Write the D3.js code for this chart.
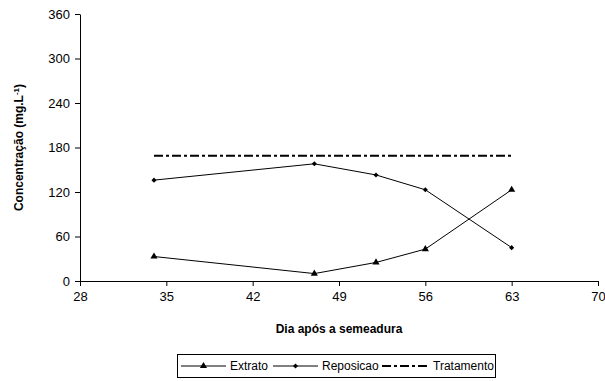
<!DOCTYPE html>
<meta charset="utf-8">
<style>
	body { margin: 0; background: #fff; }
	svg text { font-family: "Liberation Sans", Arial, sans-serif; fill: #000; }
	.axis path, .axis line { stroke: #000; stroke-width: 1; }
	.axis text { font-size: 13px; }
	.line { fill: none; stroke: #000; stroke-width: 1; }
	.trat { fill: none; stroke: #000; stroke-width: 2; stroke-dasharray: 9,3,3,3; }
</style>
<body>
<div id="chart"></div>
<script src="https://d3js.org/d3.v7.min.js"></script>
<script>
	// values
	const days = [34, 47, 52, 56, 63];
	const extrato = [33, 10, 25, 43, 123];
	const reposicao = [136, 158, 143, 123, 45];
	const tratamento = [169, 169, 169, 169, 169];
	const xTicks = [28, 35, 42, 49, 56, 63, 70];
	const yTicks = [0, 60, 120, 180, 240, 300, 360];

	const width = 605, height = 381;
	const plotLeft = 80, plotRight = 598, plotTop = 14, plotBottom = 281;

	const svg = d3.select("#chart").append("svg")
		.attr("width", width)
		.attr("height", height);

	const x = d3.scaleLinear().domain([28, 70]).range([plotLeft, plotRight]);
	const y = d3.scaleLinear().domain([0, 360]).range([plotBottom, plotTop]);

	svg.append("g")
		.attr("class", "x axis")
		.attr("transform", `translate(0, ${plotBottom})`)
		.call(d3.axisBottom(x).tickValues(xTicks).tickSize(5).tickSizeOuter(0).tickPadding(6));

	svg.append("g")
		.attr("class", "y axis")
		.attr("transform", `translate(${plotLeft}, 0)`)
		.call(d3.axisLeft(y).tickValues(yTicks).tickSize(5).tickSizeOuter(0).tickPadding(5));

	// axis titles
	svg.append("text")
		.attr("x", (plotLeft + plotRight) / 2)
		.attr("y", 333)
		.attr("text-anchor", "middle")
		.style("font-size", "12px")
		.style("font-weight", "bold")
		.text("Dia após a semeadura");

	const yt = svg.append("text")
		.attr("transform", `translate(23, ${(plotTop + plotBottom) / 2}) rotate(-90)`)
		.attr("text-anchor", "middle")
		.style("font-size", "12px")
		.style("font-weight", "bold");
	yt.append("tspan").text("Concentração (mg.L");
	yt.append("tspan").attr("dy", -4).style("font-size", "8px").text("-1");
	yt.append("tspan").attr("dy", 4).text(")");

	const line = d3.line()
		.x((d, i) => x(days[i]))
		.y(d => y(d));

	const tri = d3.symbol().type(d3.symbolTriangle).size(22);
	const dia = d3.symbol().type(d3.symbolSquare).size(13);

	svg.append("path").attr("class", "trat").attr("d", line(tratamento));
	svg.append("path").attr("class", "line").attr("d", line(extrato));
	svg.append("path").attr("class", "line").attr("d", line(reposicao));

	svg.selectAll(".mk-e").data(extrato).enter().append("path")
		.attr("transform", (d, i) => `translate(${x(days[i])}, ${y(d)})`)
		.attr("d", tri);
	svg.selectAll(".mk-r").data(reposicao).enter().append("path")
		.attr("transform", (d, i) => `translate(${x(days[i])}, ${y(d)}) rotate(45)`)
		.attr("d", dia);

	// legend
	const lg = svg.append("g");
	lg.append("rect")
		.attr("x", 177.5).attr("y", 354.5)
		.attr("width", 318).attr("height", 23)
		.attr("fill", "#fff").attr("stroke", "#000");
	const ly = 366;
	const items = [
		{ name: "Extrato", x0: 181, x1: 226, tx: 230, sym: tri, rot: 0 },
		{ name: "Reposicao", x0: 273, x1: 318, tx: 322, sym: dia, rot: 45 },
		{ name: "Tratamento", x0: 382, x1: 430, tx: 433, sym: null }
	];
	items.forEach(it => {
		lg.append("line")
			.attr("x1", it.x0).attr("x2", it.x1)
			.attr("y1", ly).attr("y2", ly)
			.attr("class", it.sym ? "line" : "trat");
		if (it.sym) lg.append("path")
			.attr("transform", `translate(${(it.x0 + it.x1) / 2}, ${ly}) rotate(${it.rot})`)
			.attr("d", it.sym);
		lg.append("text")
			.attr("x", it.tx).attr("y", ly + 4)
			.style("font-size", "12px")
			.text(it.name);
	});
</script>
</body>
